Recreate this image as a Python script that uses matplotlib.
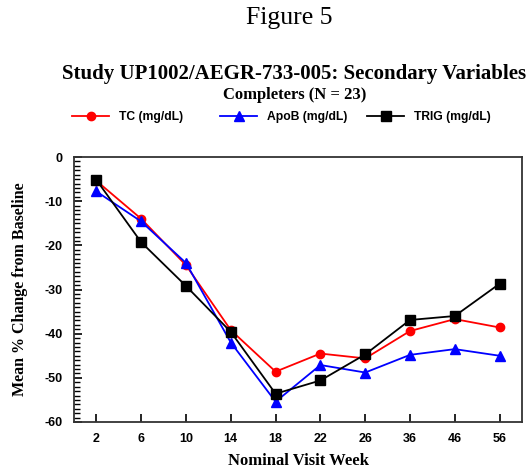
import matplotlib.pyplot as plt
from matplotlib.ticker import MultipleLocator

plt.rcParams['axes.unicode_minus'] = False

# visit weeks and mean % change from baseline
weeks = ['2', '6', '10', '14', '18', '22', '26', '36', '46', '56']
tc = [-5.4, -14.0, -24.5, -39.2, -48.6, -44.5, -45.6, -39.4, -36.7, -38.6]
apob = [-7.8, -14.6, -24.0, -42.0, -55.4, -47.1, -48.8, -44.8, -43.5, -45.0]
trig = [-5.2, -19.3, -29.2, -39.6, -53.6, -50.6, -44.7, -36.9, -36.0, -28.7]

serif = 'Liberation Serif'
sans = 'Liberation Sans'

fig = plt.figure(figsize=(5.29, 4.72), dpi=100)
ax = fig.add_axes([74/529, 1 - 422/472, 448/529, 265/472])

x = range(len(weeks))
l1, = ax.plot(x, tc, color='red', marker='o', markersize=6, lw=1.3, label='TC (mg/dL)')
l2, = ax.plot(x, apob, color='blue', marker='^', markersize=6.5, lw=1.3, label='ApoB (mg/dL)')
l3, = ax.plot(x, trig, color='black', marker='s', markersize=6.5, lw=1.3, label='TRIG (mg/dL)')

ax.set_xlim(-0.5, len(weeks) - 0.5)
ax.set_ylim(-60, 0)
ax.set_xticks(list(x))
ax.set_xticklabels(weeks)
ax.yaxis.set_major_locator(MultipleLocator(10))
ax.yaxis.set_minor_locator(MultipleLocator(1))
ax.tick_params(axis='both', direction='in', length=6, width=1.2, pad=8)
ax.tick_params(axis='y', which='minor', direction='in', length=4, width=1)
ax.tick_params(top=False, right=False)
for lab in ax.get_xticklabels() + ax.get_yticklabels():
    lab.set_fontfamily(sans)
    lab.set_fontweight('bold')
    lab.set_fontsize(9)
for sp in ax.spines.values():
    sp.set_linewidth(1.3)
    sp.set_color('#333333')

ax.set_xlabel('Nominal Visit Week', fontfamily=serif, fontweight='bold', fontsize=12, labelpad=6)
ax.set_ylabel('Mean % Change from Baseline', fontfamily=serif, fontweight='bold', fontsize=11.5, labelpad=12)

fig.text(289/529, 1 - 18/472, 'Figure 5', fontfamily=serif, fontsize=18.5, ha='center', va='center')
fig.text(62/529, 1 - 74/472, 'Study UP1002/AEGR-733-005: Secondary Variables',
         fontfamily=serif, fontweight='bold', fontsize=15, ha='left', va='center')
fig.text(295/529, 1 - 95/472, 'Completers (N = 23)', fontfamily=serif, fontweight='bold',
         fontsize=12, ha='center', va='center')

# one legend per entry so each sits where the reference puts it
for h, x0 in zip([l1, l2, l3], [72, 220, 367]):
    fig.legend(handles=[h], loc='center left', bbox_to_anchor=(x0/529, 1 - 117/472),
               frameon=False, prop={'family': sans, 'weight': 'bold', 'size': 8.7},
               handlelength=3.1, handletextpad=0.8, borderpad=0, borderaxespad=0)

fig.savefig('out.png', dpi=100)
